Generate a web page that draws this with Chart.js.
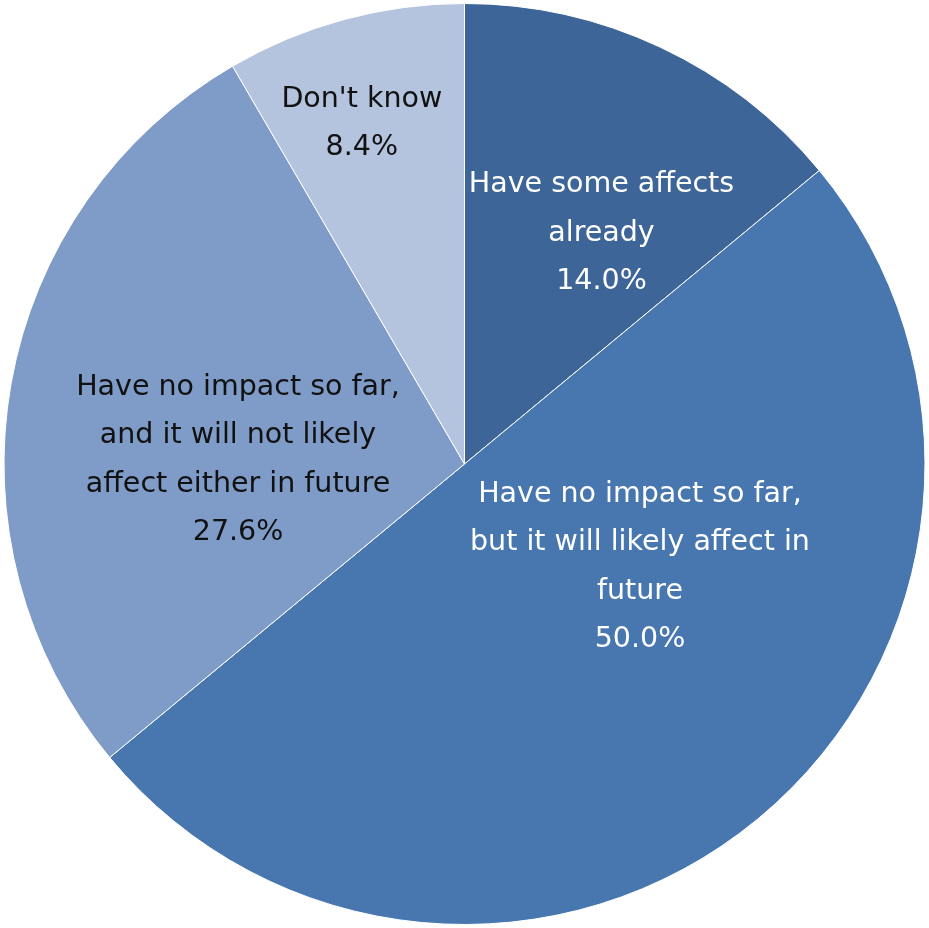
<!DOCTYPE html>
<html>
<head>
<meta charset="utf-8">
<script src="https://cdn.jsdelivr.net/npm/chart.js@4/dist/chart.umd.min.js"></script>
<style>
    html, body { margin: 0; padding: 0; background: #ffffff; }
    #wrap { width: 929px; height: 928px; }
</style>
</head>
<body>
<div id="wrap"><canvas id="pie" width="929" height="928"></canvas></div>
<script>
    // --- Data ---
    const categories = [
        ['Have some affects', 'already'],
        ['Have no impact so far,', 'but it will likely affect in', 'future'],
        ['Have no impact so far,', 'and it will not likely', 'affect either in future'],
        ["Don't know"]
    ];
    const shares = [14.0, 50.0, 27.6, 8.4];

    // --- Styling ---
    const sliceColors = ['#3e6597', '#4877b0', '#7f9bc7', '#b4c3de'];
    const labelColors = ['#ffffff', '#ffffff', '#111111', '#111111'];
    // label anchor: fraction of radius and angle (degrees clockwise from 12 o'clock)
    const labelAnchors = [
        { r: 0.586, a: 30.5 },
        { r: 0.44, a: 120 },
        { r: 0.492, a: 271.5 },
        { r: 0.776, a: 343.3 }
    ];
    const fontSpec = '28.5px "DejaVu Sans", Verdana, sans-serif';
    const lineHeight = 48.5;

    // Draws the multi-line slice labels inside the pie.
    const sliceLabels = {
        id: 'sliceLabels',
        afterDatasetsDraw(chart) {
            const ctx = chart.ctx;
            const meta = chart.getDatasetMeta(0);
            ctx.save();
            ctx.font = fontSpec;
            ctx.textAlign = 'center';
            ctx.textBaseline = 'middle';
            meta.data.forEach((arc, i) => {
                const p = arc.getProps(['x', 'y', 'outerRadius'], true);
                const anchor = labelAnchors[i];
                const rad = anchor.a * Math.PI / 180;
                const cx = p.x + Math.sin(rad) * p.outerRadius * anchor.r;
                const cy = p.y - Math.cos(rad) * p.outerRadius * anchor.r + 2;
                const lines = categories[i].concat([shares[i].toFixed(1) + '%']);
                const top = cy - (lines.length - 1) * lineHeight / 2;
                ctx.fillStyle = labelColors[i];
                lines.forEach((line, j) => {
                    ctx.fillText(line, cx, top + j * lineHeight);
                });
            });
            ctx.restore();
        }
    };

    new Chart(document.getElementById('pie').getContext('2d'), {
        type: 'pie',
        data: {
            labels: categories.map(c => c.join(' ')),
            datasets: [{
                data: shares,
                backgroundColor: sliceColors,
                borderColor: '#ffffff',
                borderWidth: 1
            }]
        },
        options: {
            responsive: false,
            animation: false,
            layout: { padding: 3 },
            plugins: {
                legend: { display: false },
                tooltip: { enabled: false }
            }
        },
        plugins: [sliceLabels]
    });
</script>
</body>
</html>
